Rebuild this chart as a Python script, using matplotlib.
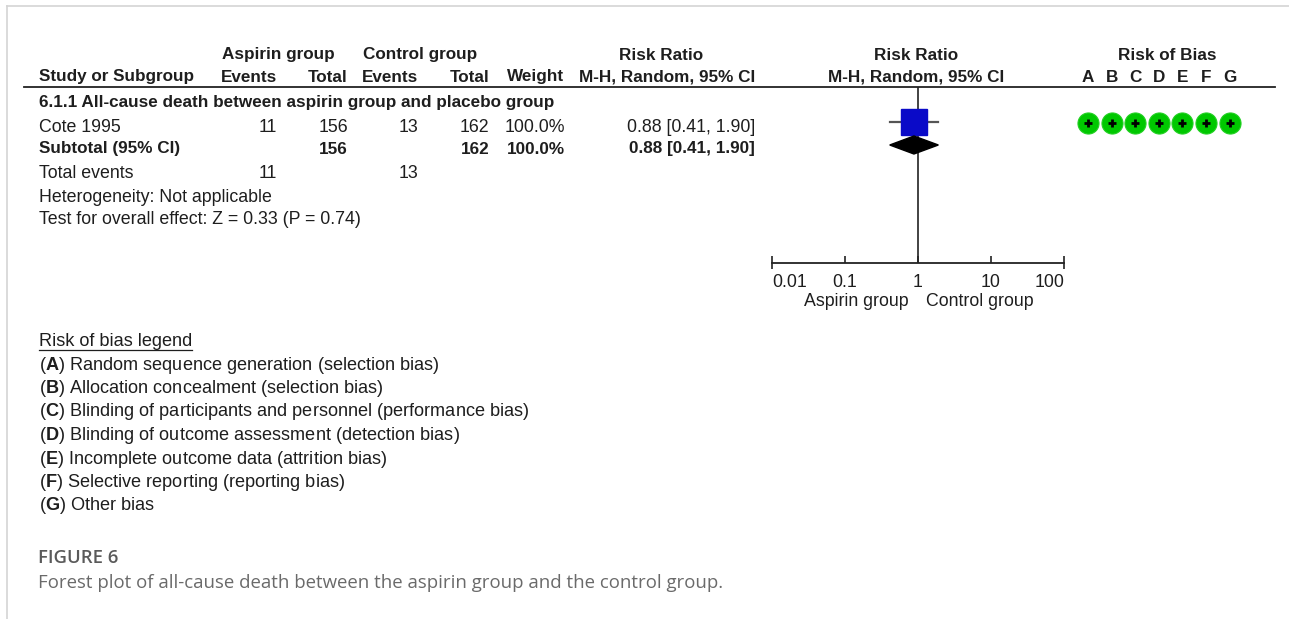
import matplotlib
matplotlib.use("Agg")
import matplotlib.pyplot as plt

plt.rcParams['font.family'] = ['Liberation Sans', 'DejaVu Sans']
plt.rcParams['mathtext.fontset'] = 'custom'
plt.rcParams['mathtext.rm'] = 'Liberation Sans'
plt.rcParams['mathtext.bf'] = 'Liberation Sans:bold'

# study data
studies = ["Cote 1995"]
asp_events = [11]
asp_total = [156]
ctl_events = [13]
ctl_total = [162]
weights = [100.0]
rr = [0.88]
rr_lo = [0.41]
rr_hi = [1.90]

# pooled result
sub_rr, sub_lo, sub_hi = 0.88, 0.41, 1.90
sub_weight = 100.0
z_value, p_value = 0.33, 0.74

rob_domains = ["A", "B", "C", "D", "E", "F", "G"]
rob_judgements = [["+", "+", "+", "+", "+", "+", "+"]]
rob_legend = [
    "Random sequence generation (selection bias)",
    "Allocation concealment (selection bias)",
    "Blinding of participants and personnel (performance bias)",
    "Blinding of outcome assessment (detection bias)",
    "Incomplete outcome data (attrition bias)",
    "Selective reporting (reporting bias)",
    "Other bias",
]
axis_ticks = [0.01, 0.1, 1, 10, 100]
axis_labels = ["0.01", "0.1", "1", "10", "100"]

W, H = 1289, 619
fig = plt.figure(figsize=(W / 100, H / 100), dpi=100)
bg = fig.add_axes([0, 0, 1, 1])
bg.set_xlim(0, W)
bg.set_ylim(H, 0)
bg.axis("off")

TXT = "#1e1e1e"
FS = 12.8     # regular text
FS_B = 12.3   # bold text


def txt(x, y, s, ha="left", bold=False, **kw):
    size = kw.pop("fontsize", FS_B if bold else FS)
    bg.text(x, y, s, ha=ha, va="center", fontsize=size,
            fontweight="bold" if bold else "normal", color=kw.pop("color", TXT), **kw)


# page frame
bg.plot([7, 7], [6, H], color="#d4d4d4", lw=1.2)
bg.plot([7, W], [6, 6], color="#d4d4d4", lw=1.2)

# header
txt(278, 55, "Aspirin group", ha="center", bold=True)
txt(420, 55, "Control group", ha="center", bold=True)
txt(661, 55, "Risk Ratio", ha="center", bold=True)
txt(916, 55, "Risk Ratio", ha="center", bold=True)
txt(1167, 55, "Risk of Bias", ha="center", bold=True)
txt(39, 77, "Study or Subgroup", bold=True)
txt(277, 77, "Events", ha="right", bold=True)
txt(348, 77, "Total", ha="right", bold=True)
txt(418, 77, "Events", ha="right", bold=True)
txt(489, 77, "Total", ha="right", bold=True)
txt(564, 77, "Weight", ha="right", bold=True)
txt(755, 77, "M-H, Random, 95% CI", ha="right", bold=True)
txt(916, 77, "M-H, Random, 95% CI", ha="center", bold=True)
rob_x = [1088 + i * 23.6 for i in range(len(rob_domains))]
for x, d in zip(rob_x, rob_domains):
    txt(x, 77, d, ha="center", bold=True)
bg.plot([24, 1275], [87, 87], color="#222222", lw=1.3)

# rows
txt(39, 102, "6.1.1 All-cause death between aspirin group and placebo group", bold=True)
row_y = [127]
for i, name in enumerate(studies):
    y = row_y[i]
    txt(39, y, name)
    txt(277, y, str(asp_events[i]), ha="right")
    txt(348, y, str(asp_total[i]), ha="right")
    txt(418, y, str(ctl_events[i]), ha="right")
    txt(489, y, str(ctl_total[i]), ha="right")
    txt(565, y, f"{weights[i]:.1f}%", ha="right")
    txt(755, y, f"{rr[i]:.2f} [{rr_lo[i]:.2f}, {rr_hi[i]:.2f}]", ha="right")
    for x, j in zip(rob_x, rob_judgements[i]):
        bg.scatter(x, y - 4, s=230, color="#00c800", edgecolor="#22d022", lw=0.8, zorder=3)
        if j == "+":
            bg.scatter(x, y - 4, s=34, marker="+", color="black", lw=2.0, zorder=4)

txt(39, 149, "Subtotal (95% CI)", bold=True)
txt(348, 149, str(sum(asp_total)), ha="right", bold=True)
txt(489, 149, str(sum(ctl_total)), ha="right", bold=True)
txt(565, 149, f"{sub_weight:.1f}%", ha="right", bold=True)
txt(755, 149, f"{sub_rr:.2f} [{sub_lo:.2f}, {sub_hi:.2f}]", ha="right", bold=True)
txt(39, 173, "Total events")
txt(277, 173, str(sum(asp_events)), ha="right")
txt(418, 173, str(sum(ctl_events)), ha="right")
txt(39, 197, "Heterogeneity: Not applicable")
txt(39, 220, f"Test for overall effect: Z = {z_value:.2f} (P = {p_value:.2f})")

# forest panel
x0, x1, y0, y1 = 772, 1064, 87, 263
ax = fig.add_axes([x0 / W, (H - y1) / H, (x1 - x0) / W, (y1 - y0) / H])
ax.set_xscale("log")
ax.set_xlim(axis_ticks[0], axis_ticks[-1])
ax.set_ylim(y1, y0)
ax.patch.set_alpha(0)
for s in ["top", "left", "right"]:
    ax.spines[s].set_visible(False)
ax.spines["bottom"].set_linewidth(1.3)
ax.spines["bottom"].set_color("#222222")
ax.set_yticks([])
ax.set_xticks(axis_ticks)
ax.set_xticklabels(axis_labels)
ax.minorticks_off()
ax.tick_params(axis="x", direction="in", length=5, width=1.2, pad=8,
               labelsize=FS, labelcolor=TXT, color="#222222")
tl = ax.get_xticklabels()
tl[0].set_ha("left")
tl[-1].set_ha("right")
ax.vlines([axis_ticks[0], axis_ticks[-1]], y1, y1 + 6, color="#222222", lw=1.2, clip_on=False)
ax.axvline(1, color="#222222", lw=1.2)

for i in range(len(studies)):
    y = row_y[i] - 5
    ax.plot([rr_lo[i], rr_hi[i]], [y, y], color="#555555", lw=1.6, zorder=2)
    ax.plot(rr[i], y, marker="s", markersize=18.5, color="#0a0ac8", zorder=3)
dy = 145
ax.fill([sub_lo, sub_rr, sub_hi, sub_rr], [dy, dy - 9, dy, dy + 9], color="black", zorder=3)

txt(909, 302, "Aspirin group", ha="right")
txt(926, 302, "Control group", ha="left")

# risk of bias legend
leg = bg.text(39, 341, "Risk of bias legend", ha="left", va="center", fontsize=13.1, color=TXT)
fig.canvas.draw()
bb = leg.get_window_extent()
bg.plot([39, 39 + bb.width], [350, 350], color=TXT, lw=0.9)
for i, (d, label) in enumerate(zip(rob_domains, rob_legend)):
    txt(39, 365 + i * 23.5, r"($\mathbf{" + d + r"}$) " + label, fontsize=13.1)

# caption
bg.text(38, 558, "FIGURE 6", ha="left", va="center", fontsize=13.3, fontweight="semibold",
        color="#5a5a5a", family=["Open Sans", "DejaVu Sans"])
bg.text(38, 583, "Forest plot of all-cause death between the aspirin group and the control group.",
        ha="left", va="center", fontsize=13.4, color="#6a6a6a", family=["Open Sans", "DejaVu Sans"])

fig.savefig("out.png", dpi=100)
